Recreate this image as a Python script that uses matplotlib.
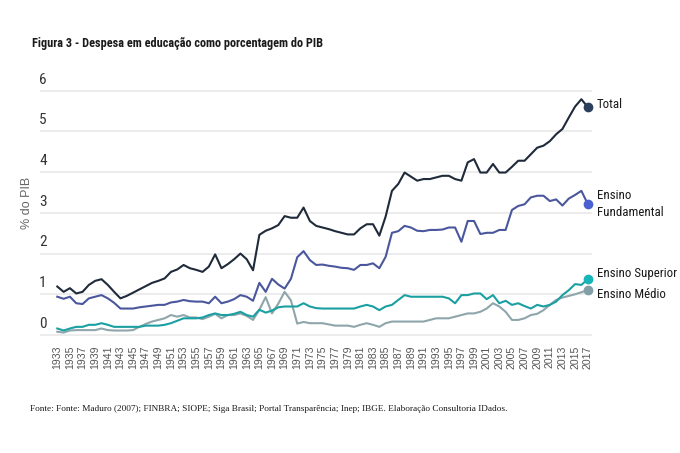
import matplotlib
matplotlib.use("Agg")
import matplotlib.pyplot as plt
from matplotlib import font_manager
import matplotlib.transforms as mtransforms

# ---------------- data ----------------
years = list(range(1933, 2018))

total = [1.19, 1.06, 1.15, 1.02, 1.06, 1.23, 1.33, 1.37, 1.23, 1.06,
         0.90, 0.96, 1.04, 1.12, 1.20, 1.28, 1.33, 1.39, 1.55, 1.61,
         1.72, 1.64, 1.60, 1.55, 1.68, 1.98, 1.64, 1.74, 1.86, 2.00,
         1.86, 1.59, 2.46, 2.56, 2.62, 2.70, 2.92, 2.88, 2.88, 3.13,
         2.80, 2.68, 2.64, 2.60, 2.55, 2.51, 2.47, 2.47, 2.62, 2.72,
         2.72, 2.44, 2.91, 3.54, 3.71, 3.99, 3.89, 3.79, 3.83, 3.83,
         3.87, 3.91, 3.91, 3.83, 3.79, 4.24, 4.32, 3.99, 3.99, 4.20,
         3.99, 3.99, 4.13, 4.28, 4.28, 4.44, 4.60, 4.65, 4.76, 4.93,
         5.06, 5.34, 5.61, 5.79, 5.60]

fundamental = [0.94, 0.89, 0.94, 0.78, 0.76, 0.90, 0.94, 0.98, 0.90, 0.79,
               0.65, 0.65, 0.65, 0.68, 0.70, 0.72, 0.74, 0.74, 0.80, 0.82,
               0.86, 0.83, 0.82, 0.82, 0.78, 0.94, 0.78, 0.82, 0.88, 0.98,
               0.94, 0.84, 1.28, 1.06, 1.38, 1.24, 1.14, 1.38, 1.91, 2.06,
               1.84, 1.72, 1.73, 1.70, 1.68, 1.65, 1.64, 1.60, 1.72, 1.72,
               1.76, 1.64, 1.92, 2.51, 2.55, 2.68, 2.64, 2.56, 2.55, 2.58,
               2.58, 2.59, 2.64, 2.64, 2.29, 2.80, 2.80, 2.48, 2.51, 2.51,
               2.58, 2.58, 3.07, 3.17, 3.21, 3.38, 3.42, 3.42, 3.29, 3.33,
               3.18, 3.35, 3.44, 3.54, 3.22]

superior = [0.16, 0.11, 0.16, 0.20, 0.20, 0.25, 0.25, 0.29, 0.25, 0.20,
            0.20, 0.20, 0.20, 0.20, 0.23, 0.23, 0.23, 0.25, 0.29, 0.35,
            0.41, 0.41, 0.41, 0.43, 0.49, 0.53, 0.49, 0.49, 0.52, 0.57,
            0.49, 0.45, 0.62, 0.55, 0.60, 0.68, 0.70, 0.70, 0.70, 0.78,
            0.70, 0.66, 0.65, 0.65, 0.65, 0.65, 0.65, 0.65, 0.70, 0.74,
            0.70, 0.61, 0.70, 0.74, 0.86, 0.98, 0.94, 0.94, 0.94, 0.94,
            0.94, 0.94, 0.90, 0.78, 0.98, 0.98, 1.02, 1.02, 0.88, 0.98,
            0.78, 0.84, 0.74, 0.78, 0.71, 0.65, 0.74, 0.70, 0.74, 0.82,
            0.98, 1.10, 1.25, 1.23, 1.37]

medio = [0.08, 0.06, 0.11, 0.12, 0.12, 0.12, 0.12, 0.16, 0.12, 0.11,
         0.11, 0.11, 0.12, 0.20, 0.27, 0.33, 0.37, 0.41, 0.49, 0.45,
         0.49, 0.43, 0.43, 0.39, 0.45, 0.52, 0.41, 0.49, 0.49, 0.53,
         0.47, 0.37, 0.62, 0.93, 0.53, 0.77, 1.06, 0.85, 0.28, 0.32,
         0.29, 0.29, 0.29, 0.26, 0.23, 0.23, 0.23, 0.20, 0.25, 0.29,
         0.25, 0.20, 0.29, 0.33, 0.33, 0.33, 0.33, 0.33, 0.33, 0.37,
         0.41, 0.41, 0.41, 0.45, 0.49, 0.53, 0.53, 0.57, 0.65, 0.78,
         0.70, 0.57, 0.37, 0.37, 0.41, 0.49, 0.52, 0.61, 0.74, 0.86,
         0.92, 0.96, 1.00, 1.05, 1.10]

series_names = ["Total", "Ensino\nFundamental", "Ensino Superior", "Ensino Médio"]
y_ticks = [0, 1, 2, 3, 4, 5, 6]
x_tick_years = list(range(1933, 2018, 2))

title = "Figura 3 - Despesa em educação como porcentagem do PIB"
source = ("Fonte: Fonte: Maduro (2007); FINBRA; SIOPE; Siga Brasil; Portal Transparência; "
          "Inep; IBGE. Elaboração Consultoria IDados.")
y_label = "% do PIB"

# ---------------- fonts ----------------
ttf = font_manager.fontManager.ttflist
available = {f.name for f in ttf}
def pick(*names):
    for n in names:
        if n in available:
            return n
    return "DejaVu Sans"

cond_kw = None
for nm in ("Roboto Condensed", "Liberation Sans Narrow", "Arial Narrow"):
    if nm in available:
        cond_kw = dict(family=nm)
        break
if cond_kw is None:
    for f in ttf:
        if f.name in ("DejaVu Sans", "Noto Sans", "Open Sans", "Roboto") and \
                str(f.stretch) in ("condensed", "semi-condensed", "extra-condensed"):
            cond_kw = dict(family=f.name, fontstretch=f.stretch)
            break
if cond_kw is None:
    cond_kw = dict(family=pick("Roboto"))

sans = pick("Liberation Sans", "Arial", "Roboto")
serif = pick("Liberation Serif", "Times New Roman", "DejaVu Serif")

# ---------------- figure ----------------
W, H = 680, 453
fig = plt.figure(figsize=(W / 100, H / 100), dpi=100)
fig.patch.set_facecolor("white")

x_left, x_right = 40, 592
ylo, yhi = -0.05, 6.05
y_px_zero, y_px_six = 335, 90.7
px_per_unit = (y_px_zero - y_px_six) / 6
bottom_px = y_px_zero + (0 - ylo) * px_per_unit
top_px = y_px_six - (yhi - 6) * px_per_unit
ax = fig.add_axes([x_left / W, 1 - bottom_px / H, (x_right - x_left) / W, (bottom_px - top_px) / H])

yr_px = 6.314
ax.set_xlim(1933 - (57.3 - x_left) / yr_px, 2017 + (x_right - 587.7) / yr_px)
ax.set_ylim(ylo, yhi)

for s in ax.spines.values():
    s.set_visible(False)
ax.set_yticks(y_ticks)
ax.set_yticklabels([])
ax.tick_params(axis="y", length=0)
ax.grid(axis="y", color="#ebebeb", linewidth=1.3)
ax.set_axisbelow(True)

ax.set_xticks(x_tick_years)
ax.set_xticklabels([str(y) for y in x_tick_years], rotation=90,
                   fontsize=7.6, color="#555555", family=sans)
ax.tick_params(axis="x", length=0, pad=6)

colors_line = ["#1f2a3a", "#4a579c", "#1aa0a2", "#8ea6ab"]
colors_dot = ["#2c3f5e", "#4a62cf", "#17b4b8", "#819fa6"]
data = [total, fundamental, superior, medio]
z = [5, 4, 3, 2]

for vals, lc, dc, zz in zip(data, colors_line, colors_dot, z):
    ax.plot(years, vals, color=lc, linewidth=1.5, zorder=zz, solid_joinstyle="round")
    ax.plot([years[-1]], [vals[-1]], "o", color=dc, markersize=6, zorder=zz + 5,
            clip_on=False)

trans = mtransforms.blended_transform_factory(fig.transFigure, ax.transData)
for v in y_ticks:
    t = ax.text(43 / W, v, str(v), ha="center", va="bottom",
                fontsize=11, color="#333333", **cond_kw)
    t.set_transform(trans + mtransforms.ScaledTranslation(0, 3 / 72, fig.dpi_scale_trans))

label_pos = [(597, 105), (597, 204), (597, 273), (597, 294)]
label_texts = []
for name, (px, py) in zip(series_names, label_pos):
    label_texts.append(fig.text(px / W, 1 - py / H, name, ha="left", va="center",
                                fontsize=9.5, color="#1a1a1a", linespacing=1.35, **cond_kw))

fig.text(27 / W, 1 - 203 / H, y_label, rotation=90, ha="center", va="center",
         fontsize=9, color="#666666", family=sans)

t_title = fig.text(32 / W, 1 - 43 / H, title, ha="left", va="center",
                   fontsize=11, fontweight="bold", color="#1a1a1a", **cond_kw)
t_src = fig.text(30 / W, 1 - 409 / H, source, ha="left", va="center",
                 fontsize=8, color="#1a1a1a", family=serif)

fig.canvas.draw()
r = fig.canvas.get_renderer()
for t, target in ((t_title, 291), (t_src, 473)):
    w = t.get_window_extent(r).width
    t.set_fontsize(t.get_fontsize() * target / w)

# keep series labels inside the canvas
widest = max(t.get_window_extent(r).x1 for t in label_texts)
if widest > W - 3:
    scale = (W - 3 - 597) / (widest - 597)
    for t in label_texts:
        t.set_fontsize(t.get_fontsize() * scale)

fig.savefig("out.png", dpi=100, facecolor="white")
